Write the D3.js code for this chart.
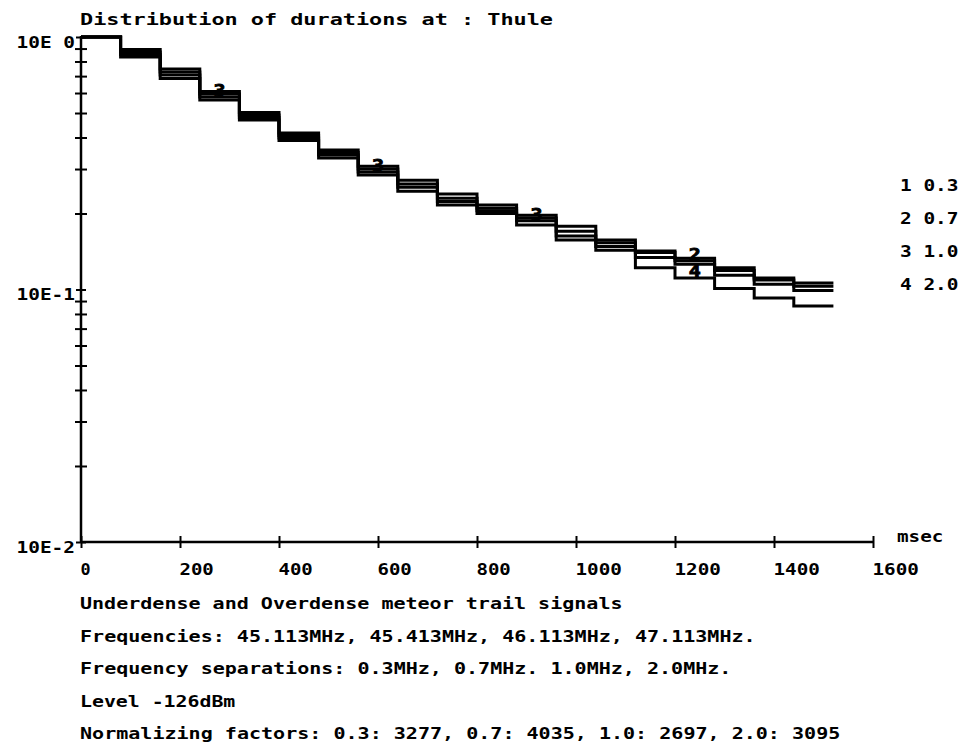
<!DOCTYPE html>
<html>
<head>
<meta charset="utf-8">
<script src="https://cdn.jsdelivr.net/npm/d3@7"></script>
<style>
    body { margin: 0; background: #fff; }
    text { font-family: "DejaVu Sans Mono", monospace; font-weight: bold; fill: #000; }
</style>
</head>
<body>
<svg id="chart" width="967" height="743"></svg>
<script>
// bins of 80 msec, start of each bin
const binWidth = 80;
const binStarts = [0, 80, 160, 240, 320, 400, 480, 560, 640, 720, 800, 880, 960, 1040, 1120, 1200, 1280, 1360, 1440];

// normalized distribution per frequency separation
const sep03 = [1.0, 0.892, 0.747, 0.608, 0.502, 0.417, 0.357, 0.308, 0.271, 0.239, 0.216, 0.197, 0.178, 0.157, 0.142, 0.133, 0.122, 0.111, 0.106];
const sep07 = [1.0, 0.872, 0.727, 0.595, 0.491, 0.407, 0.349, 0.300, 0.262, 0.230, 0.210, 0.192, 0.170, 0.153, 0.140, 0.130, 0.119, 0.109, 0.103];
const sep10 = [1.0, 0.853, 0.707, 0.579, 0.480, 0.398, 0.341, 0.292, 0.254, 0.223, 0.205, 0.187, 0.163, 0.148, 0.134, 0.126, 0.114, 0.105, 0.099];
const sep20 = [1.0, 0.833, 0.685, 0.563, 0.469, 0.389, 0.332, 0.284, 0.245, 0.216, 0.200, 0.180, 0.157, 0.143, 0.122, 0.111, 0.101, 0.0925, 0.086];
const allSeries = [sep03, sep07, sep10, sep20];

const legendLabels = ["1 0.3", "2 0.7", "3 1.0", "4 2.0"];
// digits printed on the curves: series index, bin index
const curveLabels = [
    {series: 2, bin: 3}, {series: 2, bin: 7}, {series: 2, bin: 11},
    {series: 1, bin: 15}, {series: 3, bin: 15}
];

const xTicks = [0, 200, 400, 600, 800, 1000, 1200, 1400, 1600];
const yTicks = [1, 0.1, 0.01];
const yTickLabels = ["10E 0", "10E-1", "10E-2"];
const yMinor = [0.9, 0.8, 0.7, 0.6, 0.5, 0.4, 0.3, 0.2, 0.09, 0.08, 0.07, 0.06, 0.05, 0.04, 0.03, 0.02];

const title = "Distribution of durations at : Thule";
const notes = [
    "Underdense and Overdense meteor trail signals",
    "Frequencies: 45.113MHz, 45.413MHz, 46.113MHz, 47.113MHz.",
    "Frequency separations: 0.3MHz, 0.7MHz. 1.0MHz, 2.0MHz.",
    "Level -126dBm",
    "Normalizing factors: 0.3: 3277, 0.7: 4035, 1.0: 2697, 2.0: 3095"
];

const pitch = 12.1; // monospace character width of the plotter font

function stretch(sel) {
    sel.attr("textLength", function () { return this.textContent.length * pitch - 2; })
        .attr("lengthAdjust", "spacingAndGlyphs");
}

const svg = d3.select("#chart");

const x = d3.scaleLinear()
    .domain([0, 1600])
    .range([81, 873]);
const y = d3.scaleLog()
    .domain([0.01, 1])
    .range([542, 37]);

// title
svg.append("text")
    .attr("x", 80)
    .attr("y", 25)
    .attr("font-size", 15)
    .attr("textLength", 473)
    .attr("lengthAdjust", "spacingAndGlyphs")
    .text(title);

// x axis
const gx = svg.append("g")
    .attr("transform", "translate(0," + y(0.01) + ")")
    .call(d3.axisBottom(x).tickValues(xTicks).tickSize(12).tickFormat(d3.format("d")));
gx.select(".domain").remove();
gx.append("line")
    .attr("x1", x(0)).attr("x2", x(1600))
    .attr("stroke", "#000").attr("stroke-width", 2.5);
gx.selectAll(".tick line")
    .attr("y1", -6).attr("y2", 6)
    .attr("stroke-width", 2);
gx.selectAll(".tick text")
    .attr("text-anchor", "start")
    .attr("x", -1)
    .attr("y", 33)
    .attr("dy", null)
    .attr("font-size", 15)
    .call(stretch);
gx.append("text")
    .attr("x", 897)
    .attr("y", 0)
    .attr("text-anchor", "start")
    .attr("font-size", 15)
    .text("msec")
    .call(stretch);

// y axis, minor ticks
const gyMinor = svg.append("g")
    .attr("transform", "translate(" + x(0) + ",0)")
    .call(d3.axisLeft(y).tickValues(yMinor).tickSize(12).tickFormat(""));
gyMinor.select(".domain").remove();
gyMinor.selectAll(".tick line")
    .attr("x1", -6).attr("x2", 6)
    .attr("stroke-width", 2);

// y axis, decades
const gy = svg.append("g")
    .attr("transform", "translate(" + x(0) + ",0)")
    .call(d3.axisLeft(y).tickValues(yTicks).tickSize(10)
        .tickFormat(function (d, i) { return yTickLabels[i]; }));
gy.select(".domain").remove();
gy.append("line")
    .attr("y1", y(1) - 1).attr("y2", y(0.01))
    .attr("stroke", "#000").attr("stroke-width", 2.5);
gy.selectAll(".tick line")
    .attr("x1", -5).attr("x2", 5)
    .attr("stroke-width", 2);
gy.selectAll(".tick text")
    .attr("x", -6)
    .attr("y", 10)
    .attr("dy", null)
    .attr("font-size", 15)
    .call(stretch);

// step curves
const line = d3.line()
    .x(function (d) { return x(d[0]); })
    .y(function (d) { return y(d[1]); })
    .curve(d3.curveStepAfter);

function steps(values) {
    const pts = binStarts.map(function (b, i) { return [b, values[i]]; });
    const last = binStarts.length - 1;
    pts.push([binStarts[last] + binWidth, values[last]]);
    return pts;
}

svg.append("g")
    .selectAll("path")
    .data(allSeries)
    .enter().append("path")
    .attr("d", function (d) { return line(steps(d)); })
    .attr("fill", "none")
    .attr("stroke", "#000")
    .attr("stroke-width", 3);

svg.append("g")
    .selectAll("text")
    .data(curveLabels)
    .enter().append("text")
    .attr("x", function (d) { return x(binStarts[d.bin] + binWidth / 2) - 6; })
    .attr("y", function (d) { return y(allSeries[d.series][d.bin]) - 1; })
    .attr("font-size", 15)
    .attr("textLength", 12)
    .attr("lengthAdjust", "spacingAndGlyphs")
    .attr("stroke", "#000")
    .attr("stroke-width", 0.8)
    .text(function (d) { return d.series + 1; });

// legend
svg.append("g")
    .selectAll("text")
    .data(legendLabels)
    .enter().append("text")
    .attr("x", 900)
    .attr("y", function (d, i) { return 191 + i * 33; })
    .attr("font-size", 15)
    .text(function (d) { return d; })
    .call(stretch);

// notes under the chart
svg.append("g")
    .selectAll("text")
    .data(notes)
    .enter().append("text")
    .attr("x", 80)
    .attr("y", function (d, i) { return 609 + i * 32.5; })
    .attr("font-size", 15)
    .text(function (d) { return d; })
    .call(stretch);
</script>
</body>
</html>
